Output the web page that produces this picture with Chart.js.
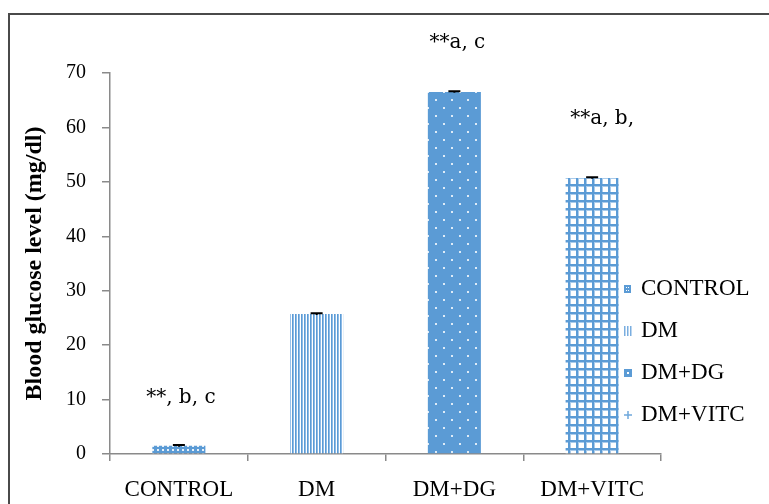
<!DOCTYPE html>
<html>
<head>
<meta charset="utf-8">
<style>
html,body{margin:0;padding:0;background:#fff;}
#wrap{width:769px;height:504px;position:relative;}
canvas{display:block;}
</style>
<script src="https://cdn.jsdelivr.net/npm/chart.js@4/dist/chart.umd.min.js"></script>
</head>
<body>
<div id="wrap"><canvas id="c" width="769" height="504"></canvas></div>
<script>
// ---- data ----
const categories = ['CONTROL', 'DM', 'DM+DG', 'DM+VITC'];
const glucoseValues = [1.5, 25.7, 66.5, 50.7];
const errorValues = [0.15, 0.15, 0.15, 0.15];
const significance = ['**, b, c', '', '**a, c', '**a, b,'];
const yTickValues = [0, 10, 20, 30, 40, 50, 60, 70];
const yAxisTitle = 'Blood glucose level (mg/dl)';

// ---- styling / layout constants ----
const SERIF = "'Liberation Serif', 'Times New Roman', serif";
const BLUE = '#5B9BD5';
const AXIS = '#8a8a8a';
const annDx = [2, 0, 3, 10];
const annDy = [48, 0, 49, 59];

function tile(w, h, draw) {
  const c = document.createElement('canvas');
  c.width = w; c.height = h;
  const g = c.getContext('2d');
  draw(g);
  return g.createPattern(c, 'repeat');
}
const patControl = tile(5, 4, g => {
  g.fillStyle = BLUE; g.fillRect(0, 0, 5, 4);
  g.fillStyle = 'rgba(255,255,255,0.85)'; g.fillRect(2, 1, 2, 2);
});
const patDM = tile(3, 1, g => {
  g.fillStyle = '#ffffff'; g.fillRect(0, 0, 3, 1);
  g.fillStyle = BLUE; g.fillRect(1, 0, 1, 1);
  g.fillStyle = '#8fbbe6'; g.fillRect(2, 0, 1, 1);
});
const patDG = tile(16, 16, g => {
  g.fillStyle = BLUE; g.fillRect(0, 0, 16, 16);
  g.fillStyle = 'rgba(255,255,255,0.8)';
  g.fillRect(3, 3, 2, 2); g.fillRect(11, 11, 2, 2);
});
const patVit = tile(8, 8, g => {
  g.fillStyle = '#ffffff'; g.fillRect(0, 0, 8, 8);
  g.fillStyle = '#a9cbeb'; g.fillRect(0, 2, 8, 1); g.fillRect(2, 0, 1, 8);
  g.fillStyle = BLUE; g.fillRect(0, 0, 8, 2); g.fillRect(0, 0, 2, 8);
});
const fills = [patControl, patDM, patDG, patVit];

const framePlugin = {
  id: 'frame',
  beforeDraw(chart) {
    const ctx = chart.ctx;
    ctx.save();
    ctx.fillStyle = '#fff';
    ctx.fillRect(0, 0, chart.width, chart.height);
    ctx.strokeStyle = '#4a4a4a';
    ctx.lineWidth = 2;
    ctx.beginPath();
    ctx.moveTo(9, 504); ctx.lineTo(9, 14); ctx.lineTo(769, 14);
    ctx.stroke();
    ctx.restore();
  }
};

const errorPlugin = {
  id: 'errbars',
  afterDatasetsDraw(chart) {
    const ctx = chart.ctx;
    const meta = chart.getDatasetMeta(0);
    const y = chart.scales.y;
    ctx.save();
    ctx.strokeStyle = '#000';
    ctx.lineWidth = 2;
    meta.data.forEach((bar, i) => {
      const v = glucoseValues[i], e = errorValues[i];
      const top = y.getPixelForValue(v + e), bot = y.getPixelForValue(v - e);
      ctx.beginPath();
      ctx.moveTo(bar.x, bot); ctx.lineTo(bar.x, top);
      ctx.moveTo(bar.x - 6, top); ctx.lineTo(bar.x + 6, top);
      ctx.stroke();
    });
    ctx.restore();
  }
};

const annotationPlugin = {
  id: 'annot',
  afterDraw(chart) {
    const ctx = chart.ctx;
    const meta = chart.getDatasetMeta(0);
    const y = chart.scales.y;
    ctx.save();
    ctx.fillStyle = '#000';
    ctx.font = "20px 'DejaVu Serif', serif";
    ctx.textAlign = 'center';
    ctx.textBaseline = 'middle';
    meta.data.forEach((bar, i) => {
      if (!significance[i]) return;
      ctx.fillText(significance[i], bar.x + annDx[i], y.getPixelForValue(glucoseValues[i]) - annDy[i]);
    });
    ctx.restore();
  }
};

const legendPlugin = {
  id: 'sideLegend',
  afterDraw(chart) {
    const ctx = chart.ctx;
    const x0 = 624, y0 = 289, step = 42;
    ctx.save();
    ctx.font = '23px ' + SERIF;
    ctx.textBaseline = 'middle';
    ctx.textAlign = 'left';
    categories.forEach((name, i) => {
      const cy = y0 + i * step;
      if (i === 0) {
        ctx.fillStyle = BLUE; ctx.fillRect(x0, cy - 4, 7, 8);
        ctx.fillStyle = '#fff';
        ctx.fillRect(x0 + 2, cy - 2, 1, 1); ctx.fillRect(x0 + 4, cy - 2, 1, 1);
        ctx.fillRect(x0 + 2, cy + 1, 1, 1); ctx.fillRect(x0 + 4, cy + 1, 1, 1);
      } else if (i === 1) {
        ctx.fillStyle = '#7aaee0';
        for (let k = 0; k < 3; k++) ctx.fillRect(x0 + k * 3, cy - 5, 1.5, 10);
      } else if (i === 2) {
        ctx.fillStyle = BLUE; ctx.fillRect(x0, cy - 4, 8, 8);
        ctx.fillStyle = '#fff'; ctx.fillRect(x0 + 3, cy - 1, 2, 2);
      } else {
        ctx.fillStyle = '#6fa8dc';
        ctx.fillRect(x0, cy - 0.75, 8, 1.5);
        ctx.fillRect(x0 + 3.25, cy - 4, 1.5, 8);
      }
      ctx.fillStyle = '#000';
      ctx.fillText(name, x0 + 17, cy);
    });
    ctx.restore();
  }
};

new Chart(document.getElementById('c'), {
  type: 'bar',
  data: {
    labels: categories,
    datasets: [{
      label: yAxisTitle,
      data: glucoseValues,
      backgroundColor: fills,
      borderWidth: 0,
      barPercentage: 0.385,
      categoryPercentage: 1
    }]
  },
  options: {
    responsive: false,
    animation: false,
    devicePixelRatio: 1,
    layout: { padding: { left: 0, right: 108, top: 73, bottom: 0 } },
    plugins: { legend: { display: false }, tooltip: { enabled: false } },
    scales: {
      x: {
        grid: { display: true, drawOnChartArea: false, offset: true, tickLength: 7, color: AXIS, lineWidth: 1.5 },
        border: { color: AXIS, width: 1.5 },
        ticks: { font: { family: SERIF, size: 23 }, color: '#000', padding: 15, maxRotation: 0 },
        afterFit(s) { s.height = 50; }
      },
      y: {
        min: 0, max: 70,
        afterBuildTicks(s) { s.ticks = yTickValues.map(v => ({ value: v })); },
        grid: { display: true, drawOnChartArea: false, tickLength: 8, color: AXIS, lineWidth: 1.5 },
        border: { color: AXIS, width: 1.5 },
        ticks: { font: { family: SERIF, size: 20 }, color: '#000', padding: 16 },
        title: { display: true, text: yAxisTitle, color: '#000',
                 font: { family: SERIF, size: 24, weight: 'bold' }, padding: { top: 20, bottom: 0 } },
        afterFit(s) { s.width = 110; }
      }
    }
  },
  plugins: [framePlugin, errorPlugin, annotationPlugin, legendPlugin]
});
</script>
</body>
</html>
